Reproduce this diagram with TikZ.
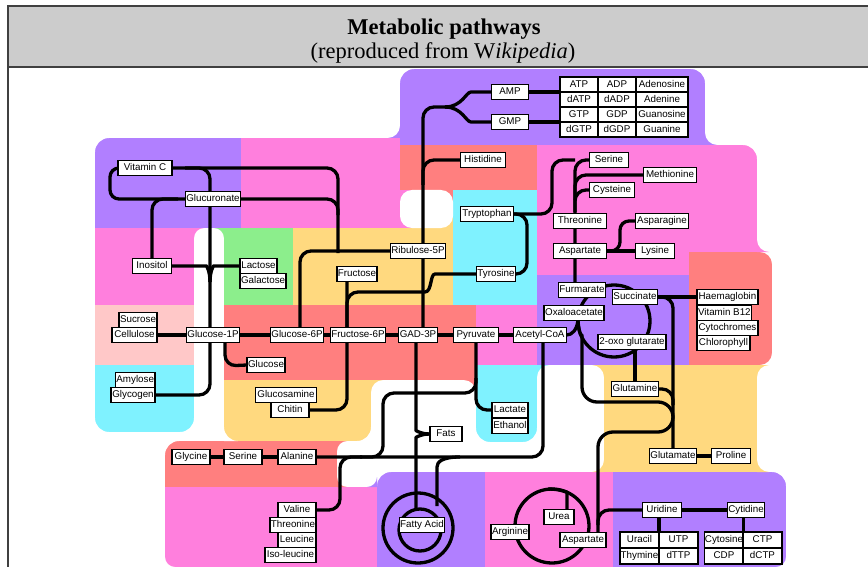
\documentclass[tikz,border=0pt]{standalone}
\usepackage{fontspec}
\setmainfont{Liberation Serif}
\setsansfont{Liberation Sans}
\usetikzlibrary{calc}
\pgfdeclarelayer{bg}
\pgfdeclarelayer{lns}
\pgfsetlayers{bg,lns,main}
\definecolor{cP}{RGB}{177,127,255}
\definecolor{cK}{RGB}{255,127,221}
\definecolor{cR}{RGB}{255,127,127}
\definecolor{cY}{RGB}{255,217,127}
\definecolor{cC}{RGB}{127,242,255}
\definecolor{cG}{RGB}{140,238,140}
\definecolor{cL}{RGB}{255,200,200}
\definecolor{cT}{RGB}{204,204,204}
\newcommand\MPcorner[5]{\fill[#1] (#2,#3) -- ({#2+#4},#3) .. controls ({#2+0.448*#4},#3) and (#2,{#3+0.448*#5}) .. (#2,{#3+#5}) -- cycle;}
\newcommand\MPrect[5]{\fill[#1] (#2,#3) rectangle (#4,#5);}
\begin{document}
\begin{tikzpicture}[x=1pt,y=-1pt,
  ln/.style={line width=3.3pt,black,rounded corners=11pt,line join=round},
  bx/.style={draw=black,line width=1.4pt,fill=white,outer sep=0pt,
    font=\sffamily\fontsize{9.8}{11}\selectfont,inner xsep=1pt,inner ysep=0.5pt,
    minimum height=14.5pt,text height=7.2pt,text depth=2pt},
  tc/.style={bx,minimum height=15pt,inner sep=0pt},
  gc/.style={bx,minimum height=16pt,minimum width=39pt,inner sep=0pt}]
\useasboundingbox (0,0) rectangle (868,567);

% ---------------- nodes ----------------
\node[bx,minimum width=37] (amp) at (510,92) {AMP};
\node[bx,minimum width=37] (gmp) at (510,122) {GMP};
\node[tc,minimum width=38] (t11) at (579,84.5) {ATP};
\node[tc,minimum width=38] (t12) at (617,84.5) {ADP};
\node[tc,minimum width=52] (t13) at (662,84.5) {Adenosine};
\node[tc,minimum width=38] (t21) at (579,99.5) {dATP};
\node[tc,minimum width=38] (t22) at (617,99.5) {dADP};
\node[tc,minimum width=52] (t23) at (662,99.5) {Adenine};
\node[tc,minimum width=38] (t31) at (579,114.5) {GTP};
\node[tc,minimum width=38] (t32) at (617,114.5) {GDP};
\node[tc,minimum width=52] (t33) at (662,114.5) {Guanosine};
\node[tc,minimum width=38] (t41) at (579,129.5) {dGTP};
\node[tc,minimum width=38] (t42) at (617,129.5) {dGDP};
\node[tc,minimum width=52] (t43) at (662,129.5) {Guanine};

\node[bx,minimum width=45] (hist) at (483,160) {Histidine};
\node[bx,minimum width=39] (ser1) at (609,160) {Serine};
\node[bx,minimum width=53] (meth) at (670,175) {Methionine};
\node[bx,minimum width=45] (cys) at (612,190) {Cysteine};
\node[bx,minimum width=53] (thr1) at (580,221) {Threonine};
\node[bx,minimum width=53] (asp1) at (580,251) {Aspartate};
\node[bx,minimum width=53] (aspn) at (662,221) {Asparagine};
\node[bx,minimum width=39] (lys) at (655,251) {Lysine};
\node[bx,minimum width=53] (trp) at (487,214) {Tryptophan};
\node[bx,minimum width=37] (tyr) at (496,274) {Tyrosine};
\node[bx,minimum width=51] (rib) at (418,251) {Ribulose-5P};

\node[bx,minimum width=54] (vitc) at (145,168) {Vitamin C};
\node[bx,minimum width=52] (glcr) at (213,199) {Glucuronate};
\node[bx,minimum width=39] (inos) at (152,266) {Inositol};
\node[bx,minimum width=37,anchor=west] (lact) at (240,266) {Lactose};
\node[bx,minimum width=43,anchor=west] (galt) at (240,281) {Galactose};
\node[bx,minimum width=37] (fruc) at (357,274) {Fructose};

\node[bx,minimum width=38,anchor=east] (sucr) at (157,320) {Sucrose};
\node[bx,minimum width=45,anchor=east] (cell) at (157,335) {Cellulose};
\node[bx,minimum width=53] (g1p) at (213,335) {Glucose-1P};
\node[bx,minimum width=52] (g6p) at (297,335) {Glucose-6P};
\node[bx,minimum width=54] (f6p) at (358,335) {Fructose-6P};
\node[bx,minimum width=39] (gad) at (418,335) {GAD-3P};
\node[bx,minimum width=45] (pyr) at (476,335) {Pyruvate};
\node[bx,minimum width=53] (acoa) at (540,335) {Acetyl-CoA};
\node[bx,minimum width=37] (gluc) at (266,365) {Glucose};
\node[bx,minimum width=36,anchor=east] (amyl) at (155,380) {Amylose};
\node[bx,minimum width=44,anchor=east] (glyc) at (155,395) {Glycogen};
\node[bx,minimum width=61] (glcn) at (286,395) {Glucosamine};
\node[bx,minimum width=38] (chit) at (290,410) {Chitin};

\node[bx,minimum width=44] (furm) at (582,290) {Furmarate};
\node[bx,minimum width=45] (succ) at (635,297) {Succinate};
\node[bx,minimum width=58] (oxal) at (574,313) {Oxaloacetate};
\node[bx,minimum width=68] (oxog) at (632,342) {2-oxo glutarate};
\node[bx,minimum width=61,anchor=west] (haem) at (697,297) {Haemaglobin};
\node[bx,minimum width=53,anchor=west] (b12) at (697,313) {Vitamin B12};
\node[bx,minimum width=61,anchor=west] (cyto) at (697,328) {Cytochromes};
\node[bx,minimum width=53,anchor=west] (chlo) at (697,343) {Chlorophyll};
\node[bx,minimum width=45] (glun) at (635,389) {Glutamine};
\node[bx,minimum width=36,anchor=west] (lacta) at (492,410) {Lactate};
\node[bx,minimum width=36,anchor=west] (etha) at (492,426) {Ethanol};
\node[bx,minimum width=32] (fats) at (446,434) {Fats};
\node[bx,minimum width=45] (glut) at (673,456) {Glutamate};
\node[bx,minimum width=39] (prol) at (731,456) {Proline};

\node[bx,minimum width=38] (glyci) at (191,457) {Glycine};
\node[bx,minimum width=38] (ser2) at (243,457) {Serine};
\node[bx,minimum width=38] (alan) at (297,457) {Alanine};
\node[bx,minimum width=38,anchor=east] (vali) at (316,510) {Valine};
\node[bx,minimum width=45,anchor=east] (thr2) at (316,525) {Threonine};
\node[bx,minimum width=38,anchor=east] (leuc) at (316,540) {Leucine};
\node[bx,minimum width=51,anchor=east] (isol) at (316,555) {Iso-leucine};
\node[bx,minimum width=45] (fatac) at (422,525) {Fatty Acid};
\node[bx,minimum width=30] (urea) at (559,517) {Urea};
\node[bx,minimum width=37] (argi) at (510,532) {Arginine};
\node[bx,minimum width=46] (asp2) at (583,540) {Aspartate};
\node[bx,minimum width=39] (urid) at (662,510) {Uridine};
\node[bx,minimum width=37] (cyti) at (746,510) {Cytidine};
\node[gc] (ura) at (639.5,540) {Uracil};
\node[gc] (utp) at (678.5,540) {UTP};
\node[gc] (thy) at (639.5,556) {Thymine};
\node[gc] (dttp) at (678.5,556) {dTTP};
\node[gc] (cytos) at (724,540) {Cytosine};
\node[gc] (ctp) at (762.5,540) {CTP};
\node[gc] (cdp) at (724,556) {CDP};
\node[gc] (dctp) at (762.5,556) {dCTP};

% ---------------- title ----------------
\begin{pgfonlayer}{bg}
\fill[cT] (8,6) rectangle (870,67);
\draw[black!75,line width=1.2pt] (870,6) -- (8,6) -- (8,570);
\draw[black!75,line width=1.2pt] (8,67) -- (870,67);
\end{pgfonlayer}
\node[font=\bfseries\fontsize{22.5}{24}\selectfont,inner sep=0pt] (title) at (444,29) {Metabolic pathways};
\node[font=\fontsize{22.5}{24}\selectfont,inner sep=0pt] (subtitle) at (443,52.5) {(reproduced from W\textit{ikipedia})};

% ---------------- background regions ----------------
\begin{pgfonlayer}{bg}
\MPrect{cP}{400}{69}{705}{145}
\MPrect{cP}{95}{138}{241}{228}
\MPrect{cK}{241}{138}{400}{228}
\MPrect{cR}{400}{145}{537}{190}
\MPrect{cK}{537}{145}{757}{275}
\MPrect{cR}{689}{252}{772}{365}
\MPrect{cC}{453}{190}{537}{305}
\MPrect{cK}{400}{190}{426}{228}
\MPrect{cR}{426}{190}{453}{209}
\MPrect{cY}{426}{209}{453}{228}
\MPrect{cK}{95}{228}{194}{305}
\MPrect{cG}{224}{228}{293}{305}
\MPrect{cY}{293}{228}{453}{305}
\MPrect{cL}{95}{305}{194}{365}
\MPrect{cC}{95}{365}{194}{432}
\MPrect{cR}{224}{305}{476}{380}
\MPrect{cK}{476}{305}{537}{365}
\MPrect{cP}{537}{275}{689}{365}
\MPrect{cC}{476}{365}{537}{442}
\MPrect{cY}{224}{380}{371}{441}
\MPrect{cY}{604}{365}{757}{472}
\MPrect{cR}{165}{441}{337}{487}
\MPrect{cK}{165}{487}{377}{570}
\MPrect{cP}{377}{472}{485}{570}
\MPrect{cK}{485}{472}{613}{570}
\MPrect{cP}{613}{472}{786}{570}
% hole
\fill[white,rounded corners=12pt] (400,190) rectangle (453,228);
% convex corners
\MPcorner{white}{400}{69}{14}{14}
\MPcorner{white}{705}{69}{-14}{14}
\MPcorner{white}{95}{138}{14}{14}
\MPcorner{white}{757}{145}{-14}{14}
\MPcorner{white}{772}{252}{-12}{12}
\MPcorner{white}{772}{365}{-12}{-12}
\MPcorner{white}{95}{432}{14}{-14}
\MPcorner{white}{194}{432}{-14}{-14}
\MPcorner{white}{224}{441}{14}{-14}
\MPcorner{white}{371}{441}{-14}{-14}
\MPcorner{white}{476}{442}{14}{-14}
\MPcorner{white}{537}{442}{-14}{-14}
\MPcorner{white}{165}{441}{14}{14}
\MPcorner{white}{377}{472}{14}{14}
\MPcorner{white}{786}{472}{-14}{14}
\MPcorner{white}{165}{567}{10}{-10}
\MPcorner{white}{786}{567}{-10}{-10}
% concave fillets
\MPcorner{cP}{400}{138}{-12}{-12}
\MPcorner{cP}{705}{145}{12}{-12}
\MPcorner{cK}{757}{252}{12}{-12}
\MPcorner{cY}{757}{365}{12}{12}
\MPcorner{cY}{757}{472}{12}{-12}
\MPcorner{cY}{604}{365}{-12}{12}
\MPcorner{cC}{537}{365}{12}{12}
\MPcorner{cY}{604}{472}{-12}{-12}
\MPcorner{cY}{371}{380}{12}{12}
\MPcorner{cR}{476}{380}{-12}{12}
\MPcorner{cR}{337}{441}{10}{10}
\MPcorner{cR}{337}{487}{10}{-10}
\MPcorner{cP}{377}{487}{-10}{-10}
\MPcorner{cK}{194}{228}{10}{10}
\MPcorner{cG}{224}{228}{-10}{10}
\end{pgfonlayer}

% ---------------- connectors ----------------
\begin{pgfonlayer}{lns}
% main trunk and nucleotides
\draw[ln] ($(gad.north)+(5,0)$) -- (423,107) -- (452,107);
\draw[ln] (445,107) .. controls (462,107) and (466,92) .. (482,92) -- (amp.west);
\draw[ln] (445,107) .. controls (462,107) and (466,122) .. (482,122) -- (gmp.west);
\draw[ln] (amp.east) -- (t21.north west);
\draw[ln] (gmp.east) -- (t41.north west);
\draw[ln] (423,185) -- (423,160) -- (hist.west);
% tyrosine / tryptophan / serine
\draw[ln] (tyr.west) -- (446,274) .. controls (430,274) and (432,292) .. (414,292) -- (347,292) -- (347,330);
\draw[ln] (trp.east) -- (527,214) -- (527,274) -- (tyr.east);
\draw[ln] (trp.east) -- (552,214) -- (552,160) -- (575,160);
\draw[ln] (ser1.west) -- (575,160) -- ($(furm.north)+(-7,0)$);
\draw[ln] (575,200) -- (575,175) -- (meth.west);
\draw[ln] (575,212) -- (575,190) -- (cys.west);
\draw[ln] (asp1.east) -- (lys.west);
\draw[ln,rounded corners=9pt] (asp1.east) -- (620,251) -- (620,221) -- (aspn.west);
% sugars
\draw[ln] ($(fruc.south)+(-10,0)$) -- (347,410) -- (chit.east);
\draw[ln] (rib.west) -- (300,251) -- ($(g6p.north)+(3,0)$);
\draw[ln] (vitc.east) -- (338,168) -- (338,253);
\draw[ln] (glcr.east) -- (338,199) -- (338,215);
\draw[ln] (185,168) -- (210,168) -- (210,395) -- (glyc.east);
\draw[ln,rounded corners=9pt] (vitc.west) -- (110,168) -- (110,199) -- (glcr.west);
\draw[ln] (inos.north) -- (152,199) -- (178,199);
\draw[ln] (inos.east) -- (196,266) .. controls (206,266) and (210,270) .. (210,282);
\draw[ln] (lact.west) -- (224,266) .. controls (214,266) and (210,270) .. (210,282);
\draw[ln] (cell.east) -- (acoa.west);
\draw[ln] ($(g1p.south)+(12,0)$) -- (225,366) -- (gluc.west);
% GAD-3P, fats, fatty acid
\draw[ln] ($(gad.south)+(-2,0)$) -- (416,420) .. controls (416,430) and (420,434) .. (fats.west);
\draw[ln] (fats.west) .. controls (420,434) and (416,438) .. (416,448) -- (416,509);
\draw[ln] (460,457) .. controls (442,457) and (437,462) .. (437,478) -- (437,506);
\draw[ln] (418,528) circle[radius=35];
\draw[ln] (420,530) circle[radius=21];
% pyruvate, lactate, alanine
\draw[ln] (pyr.south) -- (476,410) -- (lacta.west);
\draw[ln] (476,378) -- (476,393) -- (383,393) -- (383,457) -- (360,457);
\draw[ln] (glyci.east) -- (ser2.west);
\draw[ln] (ser2.east) -- (alan.west);
\draw[ln] (alan.east) -- (543,457) -- ($(acoa.south)+(3,0)$);
\draw[ln] (vali.east) -- (340,510) -- (340,457) -- (362,457);
% Krebs cycle
\draw[ln] (614,321) circle[radius=36];
\draw[ln] (acoa.east) .. controls (572,335) and (577,330) .. (578,320);
\draw[ln,rounded corners=15pt] (578,321) .. controls (579,334) and (582,338) .. (582,350) -- (582,402) -- (673,402) -- (673,432) -- (598,432) -- ($(asp2.north)+(15,0)$);
\draw[ln] (succ.east) -- (haem.west);
\draw[ln] (succ.east) -- (673,297) -- (glut.north);
\draw[ln] (glun.east) -- (673,389) -- (673,405);
\draw[ln] (oxog.south -| glun.north) -- (glun.north);
\draw[ln] (glut.east) -- (prol.west);
% urea and pyrimidines
\draw[ln] (552,526) circle[radius=37];
\draw[ln] (548,489) .. controls (562,489) and (567,493) .. (567,503) -- ($(urea.north)+(8,0)$);
\draw[ln] (598,525) -- (598,510) -- (urid.west);
\draw[ln] (urid.east) -- (cyti.west);
\draw[ln] (ura.north east) -- (ura.north east |- urid.south);
\draw[ln] (cytos.north east) -- (cytos.north east |- cyti.south);
\end{pgfonlayer}
\end{tikzpicture}
\end{document}
